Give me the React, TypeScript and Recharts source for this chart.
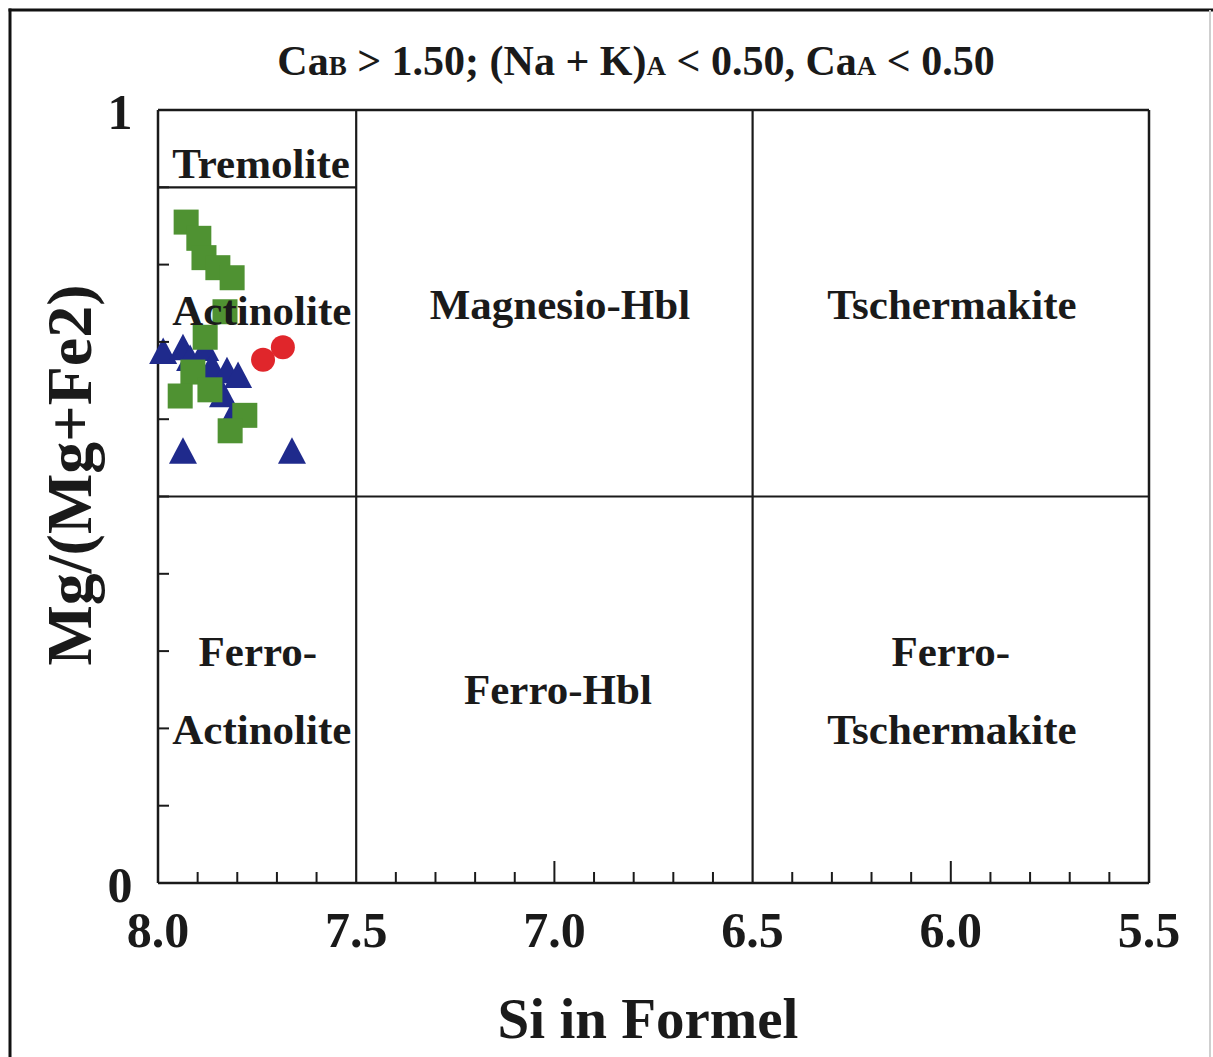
import React from 'react';
import { ScatterChart, Scatter, XAxis, YAxis, ReferenceLine, ReferenceDot } from 'recharts';

const SERIF = '"Liberation Serif", "Times New Roman", Times, serif';
const INK = '#1a1a1a';

// Si (apfu) and Mg/(Mg+Fe2+) of the three amphibole groups
const squareSi = [7.929, 7.897, 7.884, 7.849, 7.813, 7.831, 7.881, 7.912, 7.944, 7.869, 7.781, 7.818];
const squareMg = [0.855, 0.834, 0.809, 0.796, 0.783, 0.739, 0.706, 0.661, 0.63, 0.638, 0.605, 0.585];
const triangleSi = [7.987, 7.937, 7.919, 7.881, 7.864, 7.826, 7.798, 7.836, 7.811, 7.937, 7.662];
const triangleMg = [0.683, 0.688, 0.674, 0.687, 0.664, 0.658, 0.652, 0.627, 0.602, 0.554, 0.554];
const circleSi = [7.735, 7.685];
const circleMg = [0.677, 0.693];

// axis ticks
const siTicks = [8.0, 7.9, 7.8, 7.7, 7.6, 7.5, 7.4, 7.3, 7.2, 7.1, 7.0, 6.9, 6.8, 6.7, 6.6, 6.5, 6.4, 6.3, 6.2, 6.1, 6.0, 5.9, 5.8, 5.7, 5.6, 5.5];
const siLabels = [8.0, 7.5, 7.0, 6.5, 6.0, 5.5];
const siMajor = [7.0, 6.0];
const siNoTick = [8.0, 7.5, 6.5, 5.5];
const ratioTicks = [0, 0.1, 0.2, 0.3, 0.4, 0.5, 0.6, 0.7, 0.8, 0.9, 1];
const ratioLabels = [0, 1];

// classification fields and their name anchors
const fieldNames = ['Tremolite', 'Actinolite', 'Magnesio-Hbl', 'Tschermakite', 'Ferro-', 'Actinolite', 'Ferro-Hbl', 'Ferro-', 'Tschermakite'];
const fieldSi = [7.74, 7.738, 6.986, 5.997, 7.748, 7.738, 6.991, 6.0, 5.997];
const fieldMg = [0.931, 0.741, 0.749, 0.749, 0.299, 0.199, 0.25, 0.299, 0.199];

const squares = squareSi.map((si, i) => ({ si, mg: squareMg[i] }));
const triangles = triangleSi.map((si, i) => ({ si, mg: triangleMg[i] }));
const circles = circleSi.map((si, i) => ({ si, mg: circleMg[i] }));
const fields = fieldNames.map((name, i) => ({ name, si: fieldSi[i], mg: fieldMg[i] }));

const labelFont = { fontFamily: SERIF, fontWeight: 'bold' as const, fill: INK };

const SquareShape = (p: any) => (
  <rect x={p.cx - 12.5} y={p.cy - 12.5} width={25} height={25} fill="#4f9232" />
);
const TriangleShape = (p: any) => (
  <polygon
    points={`${p.cx},${p.cy - 17.5} ${p.cx - 14},${p.cy + 9} ${p.cx + 14},${p.cy + 9}`}
    fill="#1f2a8c"
  />
);
const CircleShape = (p: any) => <circle cx={p.cx} cy={p.cy} r={12} fill="#e0262b" />;

const BottomTick = ({ x, y, payload }: any) => {
  const v = payload.value;
  const len = siMajor.includes(v) ? 22 : 11;
  return (
    <g>
      {!siNoTick.includes(v) && <line x1={x} x2={x} y1={y} y2={y - len} stroke={INK} strokeWidth={2} />}
      {siLabels.includes(v) && (
        <text x={x} y={y + 47} textAnchor="middle" dominantBaseline="central" fontSize={50} {...labelFont}>
          {v.toFixed(1)}
        </text>
      )}
    </g>
  );
};

const TopTick = ({ x, y, payload }: any) => {
  const v = payload.value;
  const len = siMajor.includes(v) ? 22 : 11;
  return siNoTick.includes(v) ? <g /> : <line x1={x} x2={x} y1={y} y2={y + len} stroke={INK} strokeWidth={2} />;
};

const LeftTick = ({ x, y, payload }: any) => {
  const v = payload.value;
  return (
    <g>
      {v > 0 && v < 1 && <line x1={x} x2={x + 11} y1={y} y2={y} stroke={INK} strokeWidth={2} />}
      {ratioLabels.includes(v) && (
        <text x={x - 38} y={y + 2} textAnchor="middle" dominantBaseline="central" fontSize={50} {...labelFont}>
          {v}
        </text>
      )}
    </g>
  );
};

const RightTick = ({ x, y, payload }: any) => {
  const v = payload.value;
  return v > 0 && v < 1 ? <line x1={x} x2={x - 11} y1={y} y2={y} stroke={INK} strokeWidth={2} /> : <g />;
};

const FieldLabel = (props: any) => {
  const { viewBox, value } = props;
  const cx = viewBox.x + viewBox.width / 2;
  const cy = viewBox.y + viewBox.height / 2;
  return (
    <text x={cx} y={cy} textAnchor="middle" dominantBaseline="central" fontSize={43} {...labelFont}>
      {value}
    </text>
  );
};

const axisLine = { stroke: INK, strokeWidth: 2.5 };

export default function App() {
  return (
    <div style={{ position: 'absolute', left: 0, top: 0, width: 1213, height: 1057, background: '#fff' }}>
      <ScatterChart width={1213} height={1057} margin={{ top: 100, right: 54, bottom: 114, left: 98 }}>
        <XAxis
          dataKey="si"
          type="number"
          domain={[5.5, 8]}
          reversed
          ticks={siTicks}
          interval={0}
          height={60}
          tickSize={0}
          tickMargin={0}
          tickLine={false}
          axisLine={axisLine}
          tick={<BottomTick />}
        />
        <XAxis
          xAxisId="top"
          dataKey="si"
          type="number"
          orientation="top"
          domain={[5.5, 8]}
          reversed
          ticks={siTicks}
          interval={0}
          height={10}
          tickSize={0}
          tickMargin={0}
          tickLine={false}
          axisLine={axisLine}
          tick={<TopTick />}
        />
        <YAxis
          dataKey="mg"
          type="number"
          domain={[0, 1]}
          ticks={ratioTicks}
          interval={0}
          width={60}
          tickSize={0}
          tickMargin={0}
          tickLine={false}
          axisLine={axisLine}
          tick={<LeftTick />}
        />
        <YAxis
          yAxisId="right"
          dataKey="mg"
          type="number"
          orientation="right"
          domain={[0, 1]}
          ticks={ratioTicks}
          interval={0}
          width={10}
          tickSize={0}
          tickMargin={0}
          tickLine={false}
          axisLine={axisLine}
          tick={<RightTick />}
        />

        <ReferenceLine x={7.5} stroke={INK} strokeWidth={2.2} />
        <ReferenceLine x={6.5} stroke={INK} strokeWidth={2.2} />
        <ReferenceLine y={0.5} stroke={INK} strokeWidth={2.2} />
        <ReferenceLine segment={[{ x: 8, y: 0.9 }, { x: 7.5, y: 0.9 }]} stroke={INK} strokeWidth={2.2} />

        <Scatter data={triangles} shape={<TriangleShape />} isAnimationActive={false} />
        <Scatter data={squares} shape={<SquareShape />} isAnimationActive={false} />
        <Scatter data={circles} shape={<CircleShape />} isAnimationActive={false} />

        {fields.map((f, i) => (
          <ReferenceDot
            key={i}
            x={f.si}
            y={f.mg}
            r={0}
            fill="none"
            stroke="none"
            label={<FieldLabel value={f.name} />}
          />
        ))}
      </ScatterChart>

      <svg
        width={1213}
        height={1057}
        style={{ position: 'absolute', left: 0, top: 0, pointerEvents: 'none' }}
      >
        <line x1={10} x2={10} y1={8.5} y2={1057} stroke="#111" strokeWidth={3} />
        <line x1={8.5} x2={1213} y1={10} y2={10} stroke="#111" strokeWidth={3} />
        <line x1={1210} x2={1210} y1={10} y2={1057} stroke="#cfcfcf" strokeWidth={2} />
        <text x={636} y={75} textAnchor="middle" fontSize={42} {...labelFont}>
          Ca<tspan fontSize={27}>B</tspan> &gt; 1.50; (Na + K)<tspan fontSize={27}>A</tspan> &lt; 0.50, Ca
          <tspan fontSize={27}>A</tspan> &lt; 0.50
        </text>
        <text x={648} y={1038} textAnchor="middle" fontSize={57} {...labelFont}>
          Si in Formel
        </text>
        <text transform="translate(91,475) rotate(-90)" textAnchor="middle" fontSize={64} {...labelFont}>
          Mg/(Mg+Fe2)
        </text>
      </svg>
    </div>
  );
}
